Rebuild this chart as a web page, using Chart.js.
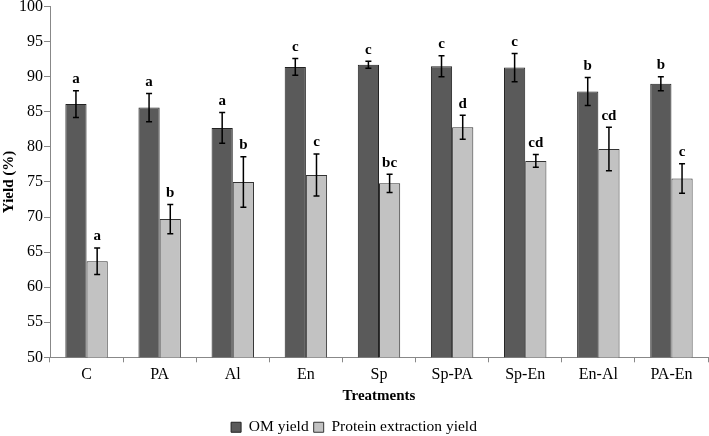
<!DOCTYPE html>
<html>
<head>
<meta charset="utf-8">
<script src="https://cdn.jsdelivr.net/npm/chart.js@4/dist/chart.umd.min.js"></script>
<style>
  html, body { margin: 0; padding: 0; background: #fff; overflow: hidden; }
  #wrap { width: 709px; height: 440px; margin-top: -4px; }
</style>
</head>
<body>
<div id="wrap"><canvas id="grafico"></canvas></div>
<script>
// datos
var categorias = ['C', 'PA', 'Al', 'En', 'Sp', 'Sp-PA', 'Sp-En', 'En-Al', 'PA-En'];
var omYield = [86.1, 85.6, 82.7, 91.4, 91.7, 91.5, 91.3, 87.9, 89.0];
var omErr = [1.9, 2.0, 2.2, 1.2, 0.5, 1.5, 2.0, 2.0, 1.0];
var omLetras = ['a', 'a', 'a', 'c', 'c', 'c', 'c', 'b', 'b'];
var proteinYield = [63.7, 69.7, 75.0, 76.0, 74.8, 82.8, 78.0, 79.7, 75.5];
var proteinErr = [1.9, 2.1, 3.6, 3.0, 1.3, 1.7, 0.9, 3.1, 2.1];
var proteinLetras = ['a', 'b', 'b', 'c', 'bc', 'd', 'cd', 'cd', 'c'];
var yTicks = [50, 55, 60, 65, 70, 75, 80, 85, 90, 95, 100];

var serif = "'Liberation Serif', 'Times New Roman', serif";

// barras de error y letras encima
var errorBars = {
    id: 'errorBars',
    afterDatasetsDraw: function(chart) {
        var ctx = chart.ctx;
        var y = chart.scales.y;
        var errs = [omErr, proteinErr];
        var letras = [omLetras, proteinLetras];
        ctx.save();
        chart.data.datasets.forEach(function(ds, i) {
            var meta = chart.getDatasetMeta(i);
            meta.data.forEach(function(bar, j) {
                var v = ds.data[j];
                var top = y.getPixelForValue(v + errs[i][j]);
                var bot = y.getPixelForValue(v - errs[i][j]);
                var x = bar.x;
                ctx.strokeStyle = '#000';
                ctx.lineWidth = 1.5;
                ctx.beginPath();
                ctx.moveTo(x, top); ctx.lineTo(x, bot);
                ctx.moveTo(x - 3, top); ctx.lineTo(x + 3, top);
                ctx.moveTo(x - 3, bot); ctx.lineTo(x + 3, bot);
                ctx.stroke();
                ctx.fillStyle = '#000';
                ctx.font = 'bold 15px ' + serif;
                ctx.textAlign = 'center';
                ctx.textBaseline = 'bottom';
                ctx.fillText(letras[i][j], x, top - 4);
            });
        });
        ctx.restore();
    }
};

var ctx = document.getElementById('grafico').getContext('2d');
new Chart(ctx, {
    type: 'bar',
    data: {
        labels: categorias,
        datasets: [{
            label: 'OM yield',
            data: omYield,
            backgroundColor: '#5a5a5a',
            borderColor: '#222',
            borderWidth: 1
        }, {
            label: 'Protein extraction yield',
            data: proteinYield,
            backgroundColor: '#c2c2c2',
            borderColor: '#333',
            borderWidth: 1
        }]
    },
    options: {
        responsive: true,
        maintainAspectRatio: false,
        animation: false,
        layout: { padding: { top: -2, right: 1, left: 0, bottom: -9 } },
        datasets: { bar: { categoryPercentage: 0.58, barPercentage: 1 } },
        plugins: {
            tooltip: { enabled: false },
            legend: {
                position: 'bottom',
                labels: {
                    boxWidth: 10,
                    boxHeight: 10,
                    padding: 5,
                    color: '#000',
                    font: { family: serif, size: 15.5 }
                }
            }
        },
        scales: {
            x: {
                grid: { drawOnChartArea: false, drawTicks: true, tickLength: 5, color: '#888' },
                border: { color: '#888' },
                ticks: { color: '#000', padding: 3, font: { family: serif, size: 16 } },
                title: { display: true, text: 'Treatments', color: '#000', padding: { top: 0, bottom: 9 }, font: { family: serif, size: 15, weight: 'bold' } }
            },
            y: {
                min: 50,
                max: 100,
                afterBuildTicks: function(axis) {
                    axis.ticks = yTicks.map(function(v) { return { value: v }; });
                },
                grid: { drawOnChartArea: false, drawTicks: true, tickLength: 6, color: '#888' },
                border: { color: '#888' },
                ticks: { color: '#000', padding: 1, font: { family: serif, size: 16 } },
                title: { display: true, text: 'Yield (%)', color: '#000', padding: { top: 0, bottom: 0 }, font: { family: serif, size: 15, weight: 'bold' } }
            }
        }
    },
    plugins: [errorBars]
});
</script>
</body>
</html>
